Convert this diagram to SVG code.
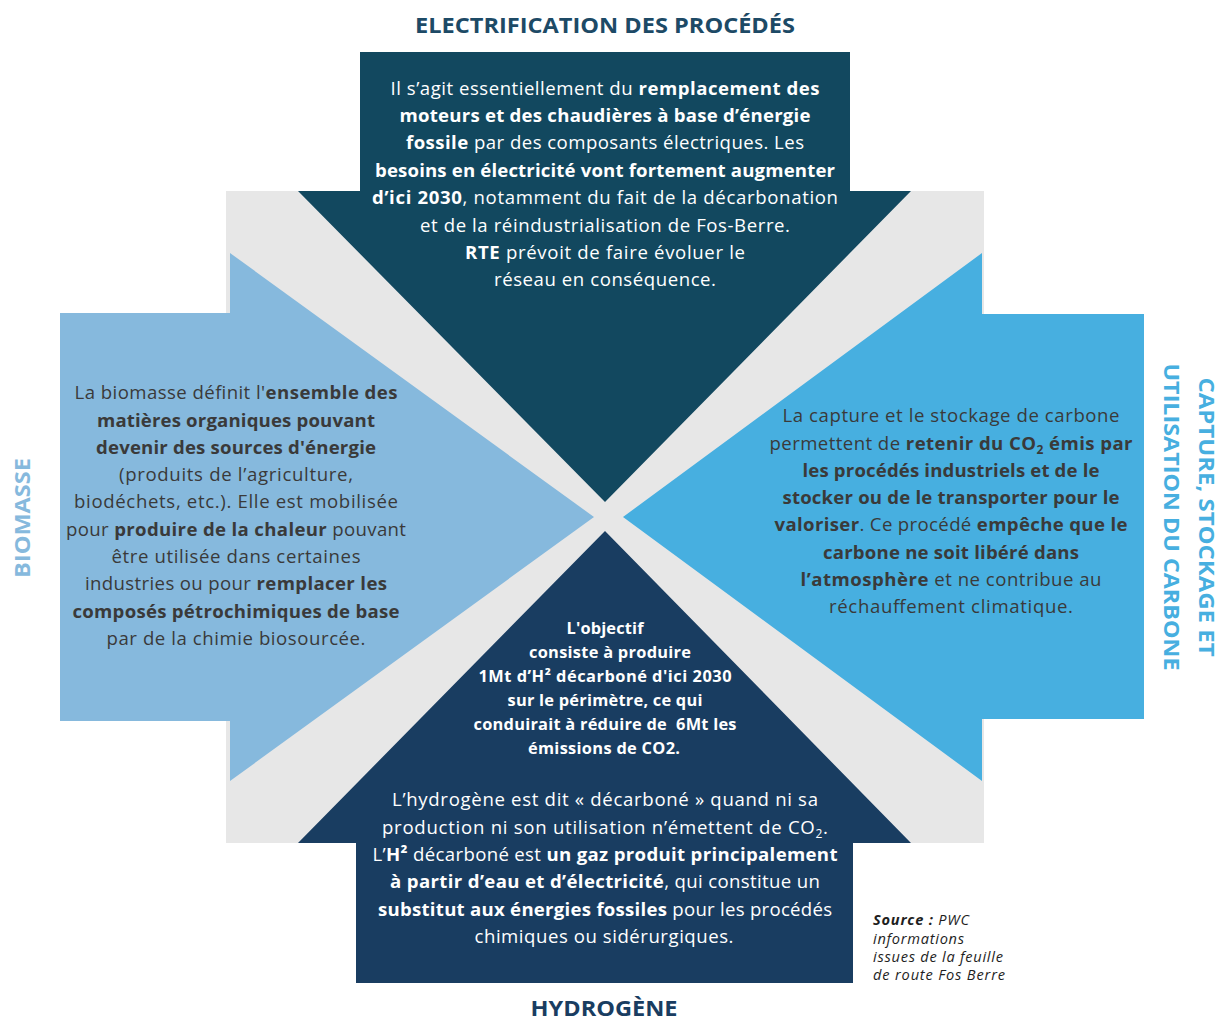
<svg xmlns="http://www.w3.org/2000/svg" width="1228" height="1021" viewBox="0 0 1228 1021">
  <style>
    .title { font-family: "Open Sans", "Liberation Sans", sans-serif; font-weight: 700; font-size: 22px; }
    .body { font-family: "Open Sans", "Liberation Sans", sans-serif; font-size: 18.6px; text-anchor: middle; }
    .light { fill: #ffffff; }
    .dark { fill: #3a3a3a; }
    .b { font-weight: 700; }
    .mid { font-family: "Open Sans", "Liberation Sans", sans-serif; font-size: 16.4px; font-weight: 700; fill: #ffffff; text-anchor: middle; }
    .src { font-family: "Open Sans", "Liberation Sans", sans-serif; font-size: 14.6px; font-style: italic; fill: #1e1e1e; }
  </style>

  <rect width="1228" height="1021" fill="#ffffff"/>

  <!-- grey backdrop behind the four arrows -->
  <rect id="backdrop" x="226" y="191" width="758" height="652" fill="#e7e7e7"/>

  <!-- connectors: none, the arrows meet at the centre -->
  <g id="connectors"></g>

  <!-- Electrification (top, pointing down) -->
  <g id="node-electrification">
    <polygon points="360,52 850,52 850,191 911,191 605,502 298,191 360,191" fill="#12485f"/>
    <text class="title" x="605" y="33" text-anchor="middle" fill="#1d4a66" textLength="380" lengthAdjust="spacingAndGlyphs">ELECTRIFICATION DES PROCÉDÉS</text>
    <g class="body light">
      <text x="605" y="95" textLength="429">Il s’agit essentiellement du <tspan class="b">remplacement des</tspan></text>
      <text x="605" y="122" textLength="411" class="b">moteurs et des chaudières à base d’énergie</text>
      <text x="605" y="149" textLength="398"><tspan class="b">fossile</tspan> par des composants électriques. Les</text>
      <text x="605" y="177" textLength="460" class="b">besoins en électricité vont fortement augmenter</text>
      <text x="605" y="204" textLength="466"><tspan class="b">d’ici 2030</tspan>, notamment du fait de la décarbonation</text>
      <text x="605" y="232" textLength="370">et de la réindustrialisation de Fos-Berre.</text>
      <text x="605" y="259" textLength="280"><tspan class="b">RTE</tspan> prévoit de faire évoluer le</text>
      <text x="605" y="286" textLength="222">réseau en conséquence.</text>
    </g>
  </g>

  <!-- Biomasse (left, pointing right) -->
  <g id="node-biomasse">
    <polygon points="60,313 230,313 230,253 594,517 230,781 230,721 60,721" fill="#86b9dd"/>
    <text class="title" transform="translate(30,518) rotate(-90)" x="0" y="0" text-anchor="middle" fill="#86b9dd" textLength="120" lengthAdjust="spacingAndGlyphs">BIOMASSE</text>
    <g class="body dark">
      <text x="236" y="399" textLength="323">La biomasse définit l'<tspan class="b">ensemble des</tspan></text>
      <text x="236" y="427" textLength="278" class="b">matières organiques pouvant</text>
      <text x="236" y="454" textLength="280" class="b">devenir des sources d'énergie</text>
      <text x="236" y="481" textLength="234">(produits de l’agriculture,</text>
      <text x="236" y="508" textLength="324">biodéchets, etc.). Elle est mobilisée</text>
      <text x="236" y="536" textLength="340">pour <tspan class="b">produire de la chaleur</tspan> pouvant</text>
      <text x="236" y="563" textLength="249">être utilisée dans certaines</text>
      <text x="236" y="590" textLength="302">industries ou pour <tspan class="b">remplacer les</tspan></text>
      <text x="236" y="618" textLength="327" class="b">composés pétrochimiques de base</text>
      <text x="236" y="645" textLength="259">par de la chimie biosourcée.</text>
    </g>
  </g>

  <!-- Capture, stockage et utilisation du carbone (right, pointing left) -->
  <g id="node-capture">
    <polygon points="1144,314 982,314 982,253 623,517 982,781 982,719 1144,719" fill="#47afe0"/>
    <text class="title" transform="translate(1199,517) rotate(90)" x="0" y="0" text-anchor="middle" fill="#47afe0" textLength="279" lengthAdjust="spacingAndGlyphs">CAPTURE, STOCKAGE ET</text>
    <text class="title" transform="translate(1164,517) rotate(90)" x="0" y="0" text-anchor="middle" fill="#47afe0" textLength="307" lengthAdjust="spacingAndGlyphs">UTILISATION DU CARBONE</text>
    <g class="body dark">
      <text x="951" y="422" textLength="337">La capture et le stockage de carbone</text>
      <text x="951" y="450" textLength="363">permettent de <tspan class="b">retenir du CO<tspan font-size="12" dy="4">2</tspan><tspan dy="-4"> émis par</tspan></tspan></text>
      <text x="951" y="477" textLength="297" class="b">les procédés industriels et de le</text>
      <text x="951" y="504" textLength="337" class="b">stocker ou de le transporter pour le</text>
      <text x="951" y="531" textLength="353"><tspan class="b">valoriser</tspan>. Ce procédé <tspan class="b">empêche que le</tspan></text>
      <text x="951" y="559" textLength="256" class="b">carbone ne soit libéré dans</text>
      <text x="951" y="586" textLength="301"><tspan class="b">l’atmosphère</tspan> et ne contribue au</text>
      <text x="951" y="613" textLength="244">réchauffement climatique.</text>
    </g>
  </g>

  <!-- Hydrogène (bottom, pointing up) -->
  <g id="node-hydrogene">
    <polygon points="605,531 911,843 853,843 853,983 356,983 356,843 298,843" fill="#193d61"/>
    <g>
      <text class="mid" x="605" y="634" textLength="77">L'objectif</text>
      <text class="mid" x="610" y="658" textLength="162">consiste à produire</text>
      <text class="mid" x="605" y="682" textLength="253">1Mt d’H² décarboné d'ici 2030</text>
      <text class="mid" x="605" y="706" textLength="195">sur le périmètre, ce qui</text>
      <text class="mid" x="605" y="730" textLength="263">conduirait à réduire de&#160; 6Mt les</text>
      <text class="mid" x="604" y="754" textLength="152">émissions de CO2.</text>
    </g>
    <g class="body light">
      <text x="605" y="806" textLength="426">L’hydrogène est dit « décarboné » quand ni sa</text>
      <text x="605" y="834" textLength="446">production ni son utilisation n’émettent de CO<tspan font-size="12" dy="4">2</tspan><tspan dy="-4">.</tspan></text>
      <text x="605" y="861" textLength="465">L’<tspan class="b">H²</tspan> décarboné est <tspan class="b">un gaz produit principalement</tspan></text>
      <text x="605" y="888" textLength="430"><tspan class="b">à partir d’eau et d’électricité</tspan>, qui constitue un</text>
      <text x="605" y="916" textLength="454"><tspan class="b">substitut aux énergies fossiles</tspan> pour les procédés</text>
      <text x="604" y="943" textLength="259">chimiques ou sidérurgiques.</text>
    </g>
    <text class="title" x="604" y="1016" text-anchor="middle" fill="#193d61" font-size="21" textLength="147" lengthAdjust="spacingAndGlyphs">HYDROGÈNE</text>
  </g>

  <!-- source note -->
  <g id="source-note" class="src">
    <text x="873" y="925" textLength="96"><tspan font-weight="700">Source :</tspan> PWC</text>
    <text x="873" y="944" textLength="91">informations</text>
    <text x="873" y="962" textLength="130">issues de la feuille</text>
    <text x="873" y="980" textLength="132">de route Fos Berre</text>
  </g>
</svg>
